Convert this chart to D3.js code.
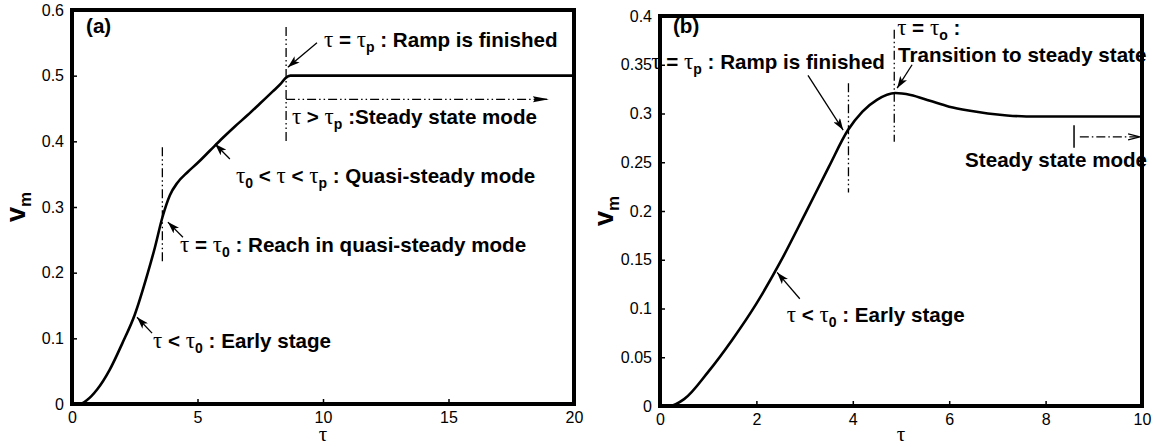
<!DOCTYPE html>
<html>
<head>
<meta charset="utf-8">
<script src="https://cdn.jsdelivr.net/npm/d3@7"></script>
<style>
  body { margin: 0; background: #fff; }
  svg { display: block; }
  .tick text { font-family: "Liberation Sans", Arial, sans-serif; font-size: 16px; fill: #000; }
  .ann { font-family: "Liberation Sans", Arial, sans-serif; font-size: 20.6px; font-weight: bold; fill: #000; }
</style>
</head>
<body>
<svg id="canvas" width="1155" height="447"></svg>
<script>
// panel (a) curve
let tauA = [0, 0.3, 0.6, 1, 1.5, 2, 2.5, 3, 3.3, 3.6, 3.9, 4.2, 4.6, 5, 5.5, 6, 6.5, 7, 7.5, 8, 8.3, 8.5, 8.7, 9, 10, 12, 15, 20]
let vmA = [0, 0, 0.006, 0.022, 0.052, 0.092, 0.136, 0.197, 0.238, 0.284, 0.318, 0.337, 0.353, 0.367, 0.386, 0.405, 0.423, 0.44, 0.458, 0.476, 0.487, 0.496, 0.5, 0.5, 0.5, 0.5, 0.5, 0.5]

// panel (b) curve
let tauB = [0, 0.2, 0.5, 1, 1.5, 2, 2.5, 3, 3.5, 3.9, 4.2, 4.5, 4.88, 5.2, 5.6, 6, 6.4, 6.8, 7.2, 7.6, 8, 9, 10]
let vmB = [0, 0, 0.007, 0.035, 0.068, 0.105, 0.148, 0.196, 0.245, 0.283, 0.302, 0.314, 0.321, 0.319, 0.313, 0.307, 0.303, 0.3, 0.298, 0.297, 0.297, 0.297, 0.297]

let xTicksA = [0, 5, 10, 15, 20]
let yTicksA = [0, 0.1, 0.2, 0.3, 0.4, 0.5, 0.6]
let xTicksB = [0, 2, 4, 6, 8, 10]
let yTicksB = [0, 0.05, 0.1, 0.15, 0.2, 0.25, 0.3, 0.35, 0.4]

// annotation texts, anchored in data units [tau, vm]
// part types: b = bold text, s = tau symbol, u = subscript
let textsA = [
  { at: [0.56, 0.565], parts: [["(a)", "b"]] },
  { at: [10.04, 0.544], parts: [["τ", "s"], [" = ", "b"], ["τ", "s"], ["p", "u"], [" : Ramp is finished", "b"]] },
  { at: [8.76, 0.426], parts: [["τ", "s"], [" > ", "b"], ["τ", "s"], ["p", "u"], [" :Steady state mode", "b"]] },
  { at: [6.53, 0.337], parts: [["τ", "s"], ["0", "u"], [" < ", "b"], ["τ", "s"], [" < ", "b"], ["τ", "s"], ["p", "u"], [" : Quasi-steady mode", "b"]] },
  { at: [4.3, 0.2315], parts: [["τ", "s"], [" = ", "b"], ["τ", "s"], ["0", "u"], [" : Reach in quasi-steady mode", "b"]] },
  { at: [3.23, 0.085], parts: [["τ", "s"], [" < ", "b"], ["τ", "s"], ["0", "u"], [" : Early stage", "b"]] }
]
let arrowsA = [
  [[9.76, 0.55], [8.6, 0.513]],
  [[6.29, 0.373], [5.7, 0.396]],
  [[4.42, 0.254], [3.82, 0.277]],
  [[3.19, 0.108], [2.59, 0.132]]
]
let vlinesA = [[3.6, 0.391, 0.215], [8.53, 0.574, 0.399]]
let hArrowA = [8.53, 19.0, 0.464]

let textsB = [
  { at: [0.27, 0.383], parts: [["(b)", "b"]] },
  { at: [-0.18, 0.346], parts: [["τ", "s"], [" = ", "b"], ["τ", "s"], ["p", "u"], [" : Ramp is finished", "b"]] },
  { at: [4.92, 0.381], parts: [["τ", "s"], [" = ", "b"], ["τ", "s"], ["o", "u"], [" :", "b"]] },
  { at: [4.94, 0.353], parts: [["Transition to steady state", "b"]] },
  { at: [2.63, 0.086], parts: [["τ", "s"], [" < ", "b"], ["τ", "s"], ["0", "u"], [" : Early stage", "b"]] },
  { at: [6.33, 0.245], parts: [["Steady state mode", "b"]] }
]
let arrowsB = [
  [[3.07, 0.339], [3.8, 0.283]],
  [[5.23, 0.35], [4.92, 0.326]],
  [[2.9, 0.11], [2.43, 0.137]]
]
let vlinesB = [[3.91, 0.331, 0.219], [4.86, 0.386, 0.271]]
let barB = [8.59, 0.288, 0.265]
let hArrowB = [8.71, 9.96, 0.276]

let svg = d3.select("#canvas")
let serif = "'Liberation Serif', 'Times New Roman', serif"

let defs = svg.append("defs")
defs.append("marker").attr("id", "head")
  .attr("viewBox", "0 0 12 8").attr("refX", 12).attr("refY", 4)
  .attr("markerWidth", 12).attr("markerHeight", 8)
  .attr("markerUnits", "userSpaceOnUse").attr("orient", "auto")
  .append("path").attr("d", "M0,0 L12,4 L0,8 L3,4 Z").attr("fill", "#000")
defs.append("marker").attr("id", "longhead")
  .attr("viewBox", "0 0 16 8").attr("refX", 16).attr("refY", 4)
  .attr("markerWidth", 16).attr("markerHeight", 8)
  .attr("markerUnits", "userSpaceOnUse").attr("orient", "auto")
  .append("path").attr("d", "M0,1 L16,4 L0,7 L2,4 Z").attr("fill", "#000")
defs.append("marker").attr("id", "openhead")
  .attr("viewBox", "0 0 12 8").attr("refX", 12).attr("refY", 4)
  .attr("markerWidth", 12).attr("markerHeight", 8)
  .attr("markerUnits", "userSpaceOnUse").attr("orient", "auto")
  .append("path").attr("d", "M0,1 L12,4 L0,7").attr("fill", "none").attr("stroke", "#000").attr("stroke-width", 1.3)

let richText = (g, x, y, parts) => {
  let t = g.append("text").attr("class", "ann").attr("x", x).attr("y", y)
  let shift = 0
  parts.forEach(p => {
    let s = t.append("tspan").text(p[0])
    if (p[1] === "s") {
      s.attr("font-family", serif).attr("font-weight", "normal").attr("font-size", 23)
    }
    if (p[1] === "u") {
      s.attr("font-size", 14).attr("dy", 5 - shift)
      shift = 5
    } else if (shift !== 0) {
      s.attr("dy", -shift)
      shift = 0
    }
  })
}

let drawPanel = (box, tau, vm, xd, yd, xt, yt, texts, arrows, vlines) => {
  let x = d3.scaleLinear().domain(xd).range([box.left, box.right])
  let y = d3.scaleLinear().domain(yd).range([box.bottom, box.top])
  let g = svg.append("g")

  g.append("g").attr("transform", `translate(0,${box.bottom})`)
    .call(d3.axisBottom(x).tickValues(xt).tickSize(-5).tickPadding(8).tickFormat(d3.format("d")))
    .call(a => a.select(".domain").remove())
    .call(a => a.selectAll(".tick line").attr("stroke-width", 1.5))
  g.append("g").attr("transform", `translate(${box.left},0)`)
    .call(d3.axisLeft(y).tickValues(yt).tickSize(-5).tickPadding(8).tickFormat(d3.format("")))
    .call(a => a.select(".domain").remove())
    .call(a => a.selectAll(".tick line").attr("stroke-width", 1.5))

  let line = d3.line().x((d, i) => x(tau[i])).y((d, i) => y(vm[i])).curve(d3.curveMonotoneX)
  g.append("path").datum(vm).attr("d", line)
    .attr("fill", "none").attr("stroke", "#000").attr("stroke-width", 2.6)

  vlines.forEach(v => {
    g.append("line").attr("x1", x(v[0])).attr("x2", x(v[0])).attr("y1", y(v[1])).attr("y2", y(v[2]))
      .attr("stroke", "#000").attr("stroke-width", 1.3).attr("stroke-dasharray", "9,3,1.5,3,1.5,3")
  })
  arrows.forEach(a => {
    g.append("line").attr("x1", x(a[0][0])).attr("y1", y(a[0][1])).attr("x2", x(a[1][0])).attr("y2", y(a[1][1]))
      .attr("stroke", "#000").attr("stroke-width", 1.3).attr("marker-end", "url(#head)")
  })

  // frame
  g.append("rect").attr("x", box.left).attr("y", box.top)
    .attr("width", box.right - box.left).attr("height", box.bottom - box.top)
    .attr("fill", "none").attr("stroke", "#000").attr("stroke-width", 4)

  texts.forEach(t => richText(g, x(t.at[0]), y(t.at[1]), t.parts))

  // axis titles
  g.append("text").attr("x", (box.left + box.right) / 2).attr("y", 441)
    .attr("text-anchor", "middle").attr("font-family", serif).attr("font-size", 21).text("τ")
  let yl = g.append("text").attr("transform", `translate(${box.left - 47},${(box.top + box.bottom) / 2}) rotate(-90)`)
    .attr("text-anchor", "middle").attr("font-family", "'Liberation Sans', Arial, sans-serif")
    .attr("font-weight", "bold").attr("font-size", 27)
  yl.append("tspan").text("v")
  yl.append("tspan").attr("font-size", 17).attr("dy", 6).text("m")

  return { x, y, g }
}

let pa = drawPanel({ left: 72, right: 574, top: 10, bottom: 404 }, tauA, vmA, [0, 20], [0, 0.6],
  xTicksA, yTicksA, textsA, arrowsA, vlinesA)
pa.g.append("line").attr("x1", pa.x(hArrowA[0])).attr("x2", pa.x(hArrowA[1]))
  .attr("y1", pa.y(hArrowA[2])).attr("y2", pa.y(hArrowA[2]))
  .attr("stroke", "#000").attr("stroke-width", 1.3).attr("stroke-dasharray", "9,3,1.5,3,1.5,3")
  .attr("marker-end", "url(#longhead)")

let pb = drawPanel({ left: 660, right: 1142, top: 16, bottom: 406 }, tauB, vmB, [0, 10], [0, 0.4],
  xTicksB, yTicksB, textsB, arrowsB, vlinesB)
pb.g.append("line").attr("x1", pb.x(barB[0])).attr("x2", pb.x(barB[0]))
  .attr("y1", pb.y(barB[1])).attr("y2", pb.y(barB[2]))
  .attr("stroke", "#000").attr("stroke-width", 1.5)
pb.g.append("line").attr("x1", pb.x(hArrowB[0])).attr("x2", pb.x(hArrowB[1]))
  .attr("y1", pb.y(hArrowB[2])).attr("y2", pb.y(hArrowB[2]))
  .attr("stroke", "#000").attr("stroke-width", 1.3).attr("stroke-dasharray", "9,3,1.5,3")
  .attr("marker-end", "url(#openhead)")
</script>
</body>
</html>
